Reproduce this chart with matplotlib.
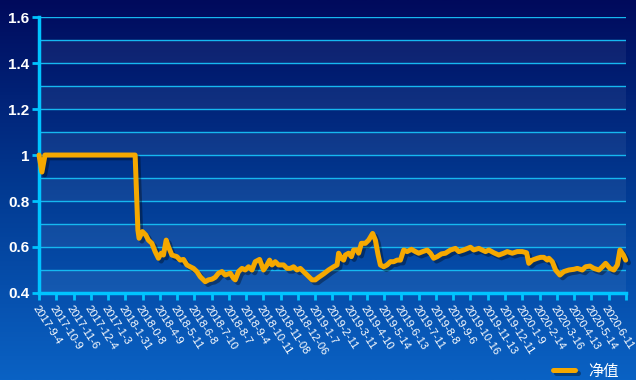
import matplotlib
matplotlib.use("Agg")
import matplotlib.pyplot as plt
import matplotlib.patheffects as pe
from matplotlib.colors import LinearSegmentedColormap
from matplotlib.ticker import FuncFormatter
import numpy as np

# libelles de l'axe x (tels quels, y compris les coquilles)
dates = ["2017-9-4", "2017-10-9", "2017-11-6", "2017-12-4", "2017-1-3",
         "2018-1-31", "2018-0-8", "2018-4-9", "2018-5-11", "2018-6-8",
         "2018-7-10", "2018-8-7", "2018-9-4", "2018-10-11", "2018-11-08",
         "2018-12-06", "2019-1-7", "2019-2-11", "2019-3-11", "2019-4-10",
         "2019-5-14", "2019-6-13", "2019-7-11", "2019-8-8", "2019-9-6",
         "2019-10-16", "2019-11-13", "2019-12-11", "2020-1-9", "2020-2-14",
         "2020-3-16", "2020-4-13", "2020-5-14", "2020-6-11"]

# position en periodes (1 = un intervalle entre deux dates) et valeur nette
t = [0.0, 0.17, 0.35, 5.57, 5.73, 5.80, 5.99, 6.19, 6.34, 6.54, 6.73, 6.92,
     7.08, 7.21, 7.37, 7.50, 7.70, 7.99, 8.18, 8.37, 8.57, 8.76, 8.95, 9.15,
     9.34, 9.63, 9.82, 10.02, 10.21, 10.40, 10.60, 10.79, 11.08, 11.27, 11.37,
     11.56, 11.76, 11.95, 12.14, 12.34, 12.53, 12.78, 13.01, 13.21, 13.36,
     13.50, 13.69, 13.88, 14.17, 14.37, 14.56, 14.75, 14.95, 15.14, 15.33,
     15.53, 15.82, 16.01, 16.20, 16.49, 16.78, 17.07, 17.27, 17.36, 17.52,
     17.65, 17.75, 17.94, 18.10, 18.23, 18.43, 18.52, 18.68, 18.91, 19.10,
     19.33, 19.49, 19.65, 19.78, 19.97, 20.17, 20.36, 20.55, 20.75, 20.94,
     21.13, 21.33, 21.58, 21.81, 22.00, 22.23, 22.49, 22.68, 22.87, 23.07,
     23.32, 23.55, 23.84, 24.13, 24.32, 24.61, 25.00, 25.19, 25.48, 25.68,
     25.87, 26.06, 26.35, 26.64, 26.93, 27.13, 27.42, 27.71, 28.00, 28.25,
     28.38, 28.58, 28.87, 29.06, 29.25, 29.45, 29.54, 29.74, 29.93, 30.18,
     30.41, 30.70, 30.99, 31.19, 31.48, 31.67, 31.92, 32.15, 32.44, 32.64,
     32.83, 33.08, 33.31, 33.51, 33.66, 33.86, 33.99]
nav = [1.0, 0.926, 1.0, 1.0, 0.674, 0.638, 0.667, 0.652, 0.630, 0.616, 0.580,
       0.551, 0.573, 0.565, 0.630, 0.601, 0.565, 0.558, 0.543, 0.546, 0.522,
       0.514, 0.507, 0.493, 0.471, 0.449, 0.457, 0.460, 0.468, 0.486, 0.493,
       0.478, 0.486, 0.464, 0.457, 0.493, 0.507, 0.500, 0.514, 0.500, 0.536,
       0.546, 0.500, 0.522, 0.543, 0.522, 0.536, 0.522, 0.522, 0.507, 0.507,
       0.514, 0.500, 0.507, 0.493, 0.478, 0.457, 0.457, 0.468, 0.483, 0.500,
       0.514, 0.522, 0.573, 0.551, 0.543, 0.565, 0.573, 0.558, 0.587, 0.587,
       0.573, 0.616, 0.616, 0.630, 0.659, 0.630, 0.565, 0.522, 0.514, 0.522,
       0.536, 0.536, 0.543, 0.543, 0.587, 0.580, 0.590, 0.580, 0.573, 0.580,
       0.587, 0.573, 0.551, 0.558, 0.570, 0.573, 0.587, 0.594, 0.580, 0.587,
       0.599, 0.587, 0.594, 0.587, 0.580, 0.587, 0.575, 0.565, 0.573, 0.580,
       0.573, 0.580, 0.580, 0.575, 0.529, 0.543, 0.551, 0.555, 0.555, 0.543,
       0.551, 0.536, 0.500, 0.478, 0.493, 0.500, 0.503, 0.507, 0.500, 0.514,
       0.517, 0.507, 0.500, 0.514, 0.529, 0.507, 0.500, 0.522, 0.587, 0.565,
       0.543]

fig = plt.figure(figsize=(6.36, 3.8), dpi=100)

# fond degrade bleu nuit -> bleu
bg = fig.add_axes([0, 0, 1, 1], zorder=-5)
cmap_bg = LinearSegmentedColormap.from_list("bg", ["#000a5c", "#023a92", "#0a62c4"])
bg.imshow(np.linspace(0, 1, 256).reshape(-1, 1), aspect="auto", cmap=cmap_bg,
          extent=[0, 1, 0, 1])
bg.axis("off")

ax = fig.add_axes([0.0613, 0.229, 0.9227, 0.726])
ax.patch.set_alpha(0)

# bandes alternees + grille
for k in range(6):
    lo = 0.4 + 0.2 * k
    ax.axhspan(lo, lo + 0.1, color="white", alpha=0.06, lw=0, zorder=0)
for y in np.arange(0.5, 1.61, 0.1):
    ax.axhline(y, color="#16b8f0", lw=1, zorder=1)

ax.plot(t, nav, color="#f5a800", lw=3.6, zorder=3, solid_joinstyle="round",
        solid_capstyle="round", label="净值", clip_on=False,
        path_effects=[pe.SimpleLineShadow(offset=(2, -2), shadow_color="black", alpha=0.35),
                      pe.Normal()])

ax.set_xlim(0, 34)
ax.set_ylim(0.4, 1.6)
ax.set_yticks([0.4, 0.6, 0.8, 1.0, 1.2, 1.4, 1.6])
ax.yaxis.set_major_formatter(FuncFormatter(lambda v, p: f"{v:g}"))
ax.set_xticks(range(35))
ax.set_xticklabels(dates + [""], rotation=-57, ha="left", va="top",
                   rotation_mode="anchor", fontsize=8, color="white",
                   family="Liberation Sans")

for s in ["top", "right"]:
    ax.spines[s].set_visible(False)
for s in ["left", "bottom"]:
    ax.spines[s].set_color("#00c4ff")
    ax.spines[s].set_linewidth(2.5)
ax.tick_params(axis="both", colors="#00c4ff", width=2, length=5)
ax.tick_params(axis="x", pad=3, labelcolor="white")
ax.tick_params(axis="y", pad=2, labelcolor="white")
for lab in ax.get_yticklabels():
    lab.set_family("Liberation Sans")
    lab.set_fontweight("bold")
    lab.set_fontsize(11)

leg = fig.legend(loc="lower right", bbox_to_anchor=(0.995, -0.035), frameon=False,
                 handlelength=1.4, handletextpad=0.9,
                 prop={"family": ["Noto Sans CJK SC", "DejaVu Sans"], "size": 11})
for txt in leg.get_texts():
    txt.set_color("white")

fig.savefig("out.png", dpi=100)
